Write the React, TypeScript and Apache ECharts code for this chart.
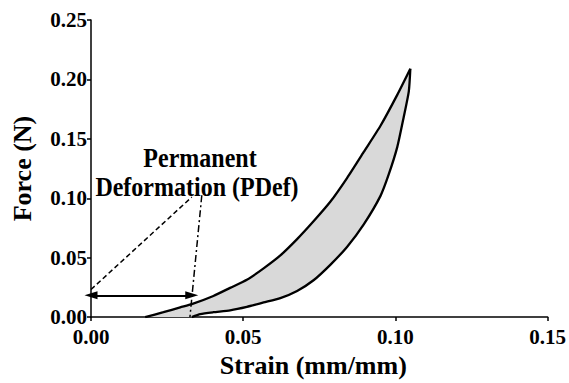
import React, { useEffect, useRef } from "react";
import * as echarts from "echarts";

// Loading curve (upper)
const strainUp = [0.0178, 0.0238, 0.0293, 0.0331, 0.0402, 0.0457, 0.0512, 0.0567, 0.0622, 0.0677, 0.0731, 0.0786, 0.0841, 0.0896, 0.0951, 0.1006, 0.1049];
const forceUp = [0, 0.0041, 0.0082, 0.0109, 0.0178, 0.0246, 0.0314, 0.041, 0.0519, 0.0656, 0.0806, 0.097, 0.117, 0.139, 0.161, 0.187, 0.209];
// Unloading curve (lower), from the peak back
const strainDown = [0.1049, 0.1044, 0.1027, 0.1006, 0.0978, 0.0951, 0.0896, 0.0841, 0.0786, 0.0731, 0.0677, 0.0622, 0.0567, 0.0512, 0.0457, 0.0402, 0.0359, 0.0331];
const forceDown = [0.209, 0.19, 0.168, 0.143, 0.12, 0.102, 0.078, 0.059, 0.044, 0.031, 0.022, 0.016, 0.0123, 0.0086, 0.0057, 0.0041, 0.0025, 0];

// Annotation lines
const guide1Strain = [0, 0.0331];
const guide1Force = [0.0232, 0.101];
const guide2Strain = [0.0364, 0.0325];
const guide2Force = [0.1025, 0];
const arrowStrain = [0, 0.0331];
const arrowForce = 0.0183;

const xTicks = { min: 0, max: 0.15, interval: 0.05 };
const yTicks = { min: 0, max: 0.25, interval: 0.05 };

const FONT = "Liberation Serif";

export default function App() {
  const ref = useRef<HTMLDivElement>(null);
  useEffect(() => {
    const chart = echarts.init(ref.current!, null, { renderer: "svg" });
    const up = strainUp.map((s, i) => [s, forceUp[i]]);
    const down = strainDown.map((s, i) => [s, forceDown[i]]);
    const loop = [...up, ...down];
    const axisCommon = {
      nameLocation: "middle",
      axisLine: { show: true, lineStyle: { color: "#000", width: 1.5 } },
      axisTick: { show: true, length: 4, lineStyle: { color: "#000", width: 1.5 } },
      axisLabel: {
        formatter: (v: number) => v.toFixed(2),
        fontFamily: FONT,
        fontWeight: "bold",
        fontSize: 21,
        lineHeight: 15,
        color: "#000",
      },
      splitLine: { show: false },
    };
    const nameStyle = { fontFamily: FONT, fontWeight: "bold", fontSize: 26, color: "#000" };
    chart.setOption({
      animation: false,
      grid: { left: 91, right: 21, top: 20, bottom: 58 },
      xAxis: {
        type: "value",
        ...xTicks,
        name: "Strain (mm/mm)",
        nameGap: 30,
        ...axisCommon,
        nameTextStyle: { ...nameStyle, padding: [0, 12, 0, 0] },
        axisLabel: { ...axisCommon.axisLabel, margin: 12 },
      },
      yAxis: {
        type: "value",
        ...yTicks,
        name: "Force (N)",
        nameGap: 56,
        ...axisCommon,
        nameTextStyle: nameStyle,
        axisLabel: { ...axisCommon.axisLabel, margin: 4, padding: [0, 0, 4, 0] },
      },
      graphic: [
        {
          type: "text",
          x: 200,
          y: 158,
          scaleY: 1.15,
          style: {
            text: "Permanent",
            font: `bold 24px "${FONT}"`,
            fill: "#000",
            align: "center",
            verticalAlign: "middle",
          },
        },
        {
          type: "text",
          x: 197,
          y: 187,
          scaleY: 1.15,
          style: {
            text: "Deformation (PDef)",
            font: `bold 24px "${FONT}"`,
            fill: "#000",
            align: "center",
            verticalAlign: "middle",
          },
        },
      ],
      series: [
        {
          type: "custom",
          silent: true,
          data: [0],
          renderItem: (params: any, api: any) => {
            const pts = loop.map((p) => api.coord(p));
            return {
              type: "polygon",
              shape: { points: pts },
              style: { fill: "#d9d9d9", stroke: "none" },
            };
          },
          z: 1,
        },
        {
          type: "line",
          data: up,
          smooth: 0.2,
          symbol: "none",
          lineStyle: { color: "#000", width: 2.3 },
          z: 3,
        },
        {
          type: "line",
          data: down,
          smooth: 0.2,
          symbol: "none",
          lineStyle: { color: "#000", width: 2.3 },
          z: 3,
        },
        {
          type: "line",
          data: guide1Strain.map((s, i) => [s, guide1Force[i]]),
          symbol: "none",
          lineStyle: { color: "#000", width: 1.5, type: [5, 3] },
          z: 3,
        },
        {
          type: "line",
          data: guide2Strain.map((s, i) => [s, guide2Force[i]]),
          symbol: "none",
          lineStyle: { color: "#000", width: 1.5, type: [7, 3, 2, 3] },
          z: 3,
        },
        {
          type: "line",
          data: [],
          z: 4,
          markLine: {
            silent: true,
            symbol: ["triangle", "triangle"],
            symbolSize: [8, 13],
            label: { show: false },
            lineStyle: { color: "#000", width: 1.8, type: "solid" },
            data: [
              [
                { coord: [arrowStrain[0], arrowForce] },
                { coord: [arrowStrain[1], arrowForce] },
              ],
            ],
          },
        },
      ],
    });
    return () => chart.dispose();
  }, []);
  return (
    <div
      ref={ref}
      style={{ position: "fixed", left: 0, top: 0, width: 569, height: 383, background: "#fff" }}
    />
  );
}
